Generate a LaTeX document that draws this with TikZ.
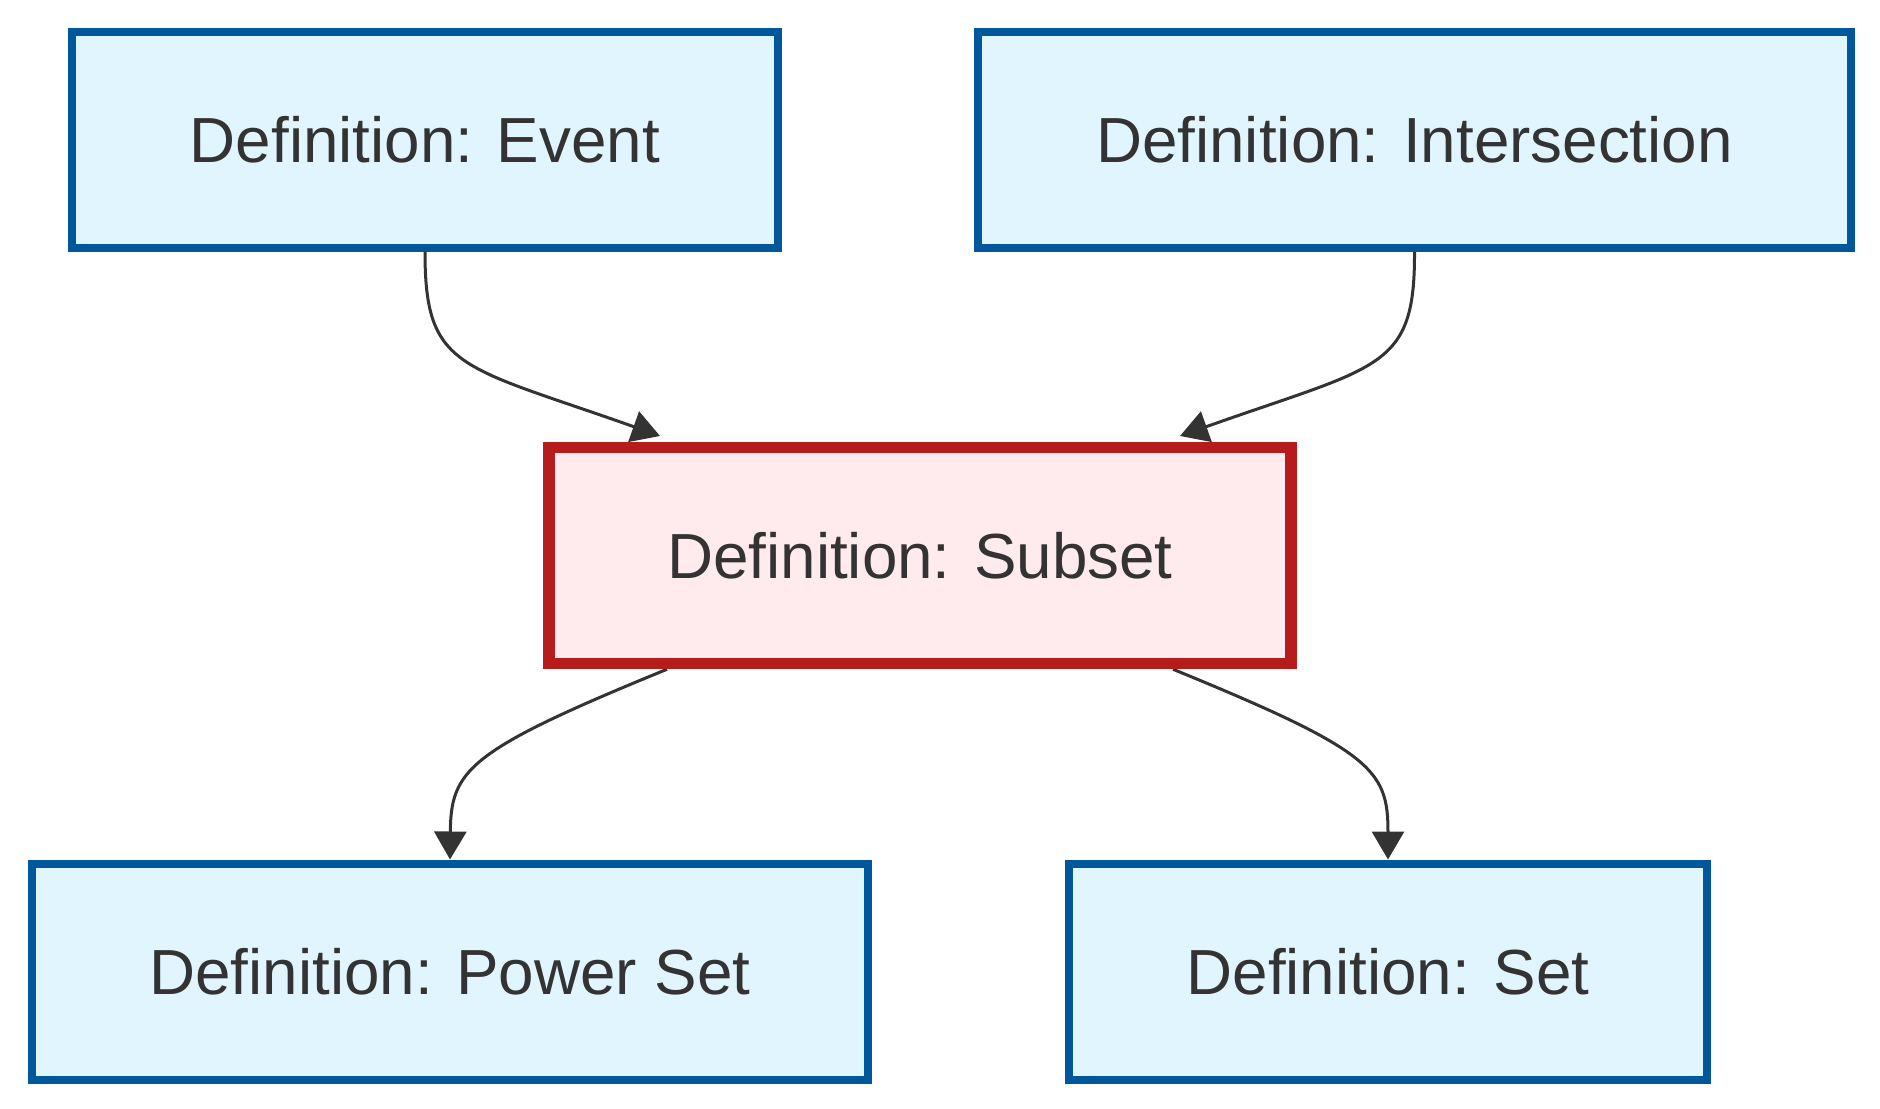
\documentclass[tikz,border=0pt]{standalone}
\usepackage{fontspec}
\setmainfont{Liberation Sans}
\usetikzlibrary{arrows.meta}

\definecolor{defFill}{HTML}{E1F5FE}
\definecolor{defLine}{HTML}{01579B}
\definecolor{keyFill}{HTML}{FFEBEE}
\definecolor{keyLine}{HTML}{B71C1C}
\definecolor{inkGrey}{HTML}{333333}

\pgfdeclarelayer{edges}
\pgfsetlayers{edges,main}

\tikzset{every picture/.style={line width=0.75pt}}
\tikzset{
	defbox/.style={draw=defLine, fill=defFill, line width=3.2pt, minimum height=86.4pt, inner sep=0pt, text=inkGrey, font=\fontsize{25.5}{30}\selectfont},
	keybox/.style={defbox, draw=keyLine, fill=keyFill, line width=4.6pt},
	conn/.style={draw=inkGrey, line width=1.2pt, -{Triangle[length=11.2pt,width=12.8pt]}}
}

\begin{document}
\begin{tikzpicture}[x=0.4pt,y=0.4pt,yscale=-1,xscale=1]
	\useasboundingbox (0,0) rectangle (1880,1108);
	
	% Node
	\node [defbox, minimum width=282.4pt] (event) at (425,140) {Definition: Event};
	% Node
	\node [defbox, minimum width=349.2pt] (inter) at (1414.5,140) {Definition: Intersection};
	% Node
	\node [keybox, minimum width=296.8pt] (subset) at (920,555.5) {Definition: Subset};
	% Node
	\node [defbox, minimum width=334.4pt] (power) at (450,971.5) {Definition: Power Set};
	% Node
	\node [defbox, minimum width=255.2pt] (set) at (1388,971.5) {Definition: Set};
	
	\begin{pgfonlayer}{edges}
	% Connection
	\draw [conn] (event.south) .. controls (425,370) and (460,365) .. ([xshift=-104pt,yshift=-2.3pt]subset.north);
	% Connection
	\draw [conn] (inter.south) .. controls (1415,370) and (1380,365) .. ([xshift=104pt,yshift=-2.3pt]subset.north);
	% Connection
	\draw [conn] ([xshift=-101.2pt]subset.south) .. controls (467,751) and (451,770) .. (power.north);
	% Connection
	\draw [conn] ([xshift=101.2pt]subset.south) .. controls (1373,751) and (1388,770) .. (set.north);
	\end{pgfonlayer}
	
\end{tikzpicture}
\end{document}
